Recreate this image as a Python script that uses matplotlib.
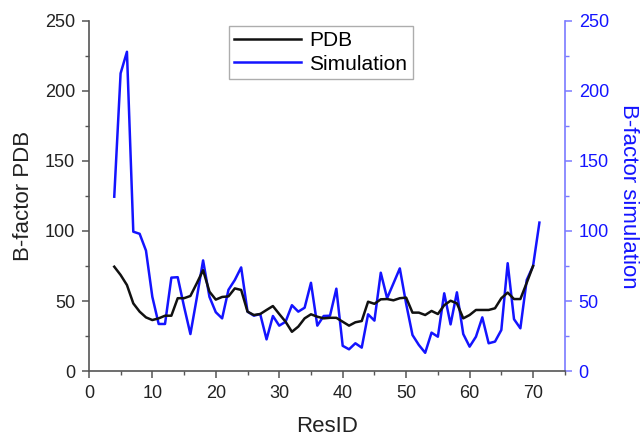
import matplotlib
matplotlib.use("Agg")
import matplotlib.pyplot as plt
from matplotlib.ticker import MultipleLocator

plt.rcParams['font.family'] = ['Liberation Sans', 'DejaVu Sans']

pdb_x = list(range(4, 71))
pdb_y = [74.5, 68.6, 61.4, 48.3, 42.4, 38.3, 36.4, 37.6, 39.5, 39.5,
         52, 52, 53.6, 62.6, 72, 56.7, 51, 52.9, 53.3, 59,
         57.9, 42.4, 40, 40.7, 43.6, 46.4, 40.7, 35.2, 28, 31.7,
         37.6, 40.5, 38.8, 37.6, 38, 38, 35.2, 32.4, 34.8, 35.7,
         49.5, 48, 51.2, 51.4, 50.5, 52, 52.4, 41.7, 41.7, 40,
         42.9, 40.7, 47, 50.2, 48.3, 37.6, 40, 43.6, 43.6, 43.6,
         44.8, 52, 56, 51.4, 51.4, 63, 75]

sim_x = list(range(4, 72))
sim_y = [124.5, 212.6, 228, 99.5, 98, 86, 53, 33.6, 33.6, 66.7,
         67, 46, 26.4, 52, 79, 53, 42, 37.6, 58, 65,
         74, 42.4, 39.5, 40.7, 22.6, 39.3, 32.4, 35.2, 47, 42.4,
         45.2, 63, 32.4, 39.3, 39.5, 58.8, 18, 15.5, 19.8, 16.7,
         40.5, 36, 70.2, 52, 62.6, 73.3, 48, 25.7, 18.6, 13,
         27.4, 24.5, 55.5, 33.3, 56.2, 26.4, 17.4, 24.5, 38.3, 19.8,
         21, 29.3, 77, 37, 30.5, 65, 75, 106]

fig = plt.figure(figsize=(6.44, 4.37), dpi=100)
ax = fig.add_axes([0.138, 0.151, 0.739, 0.801])
ax2 = ax.twinx()

blue = '#1414ff'
spine_blue = '#7a7aff'
gray = '#555555'

l2, = ax2.plot(sim_x, sim_y, color=blue, lw=1.8, label='Simulation')
l1, = ax.plot(pdb_x, pdb_y, color='#111111', lw=1.8, label='PDB')
ax.set_zorder(ax2.get_zorder() + 1)
ax.patch.set_visible(False)

for a in (ax, ax2):
    a.set_xlim(0, 75)
    a.set_ylim(0, 250)
    a.spines['top'].set_visible(False)

ax.xaxis.set_major_locator(MultipleLocator(10))
ax.xaxis.set_minor_locator(MultipleLocator(5))
ax.yaxis.set_major_locator(MultipleLocator(50))
ax.yaxis.set_minor_locator(MultipleLocator(25))
ax2.yaxis.set_major_locator(MultipleLocator(50))
ax2.yaxis.set_minor_locator(MultipleLocator(25))

ax.spines['left'].set_color(gray)
ax.spines['bottom'].set_color(gray)
ax.spines['right'].set_visible(False)
ax2.spines['left'].set_visible(False)
ax2.spines['bottom'].set_visible(False)
ax2.spines['right'].set_color(spine_blue)
for s in ('left', 'bottom'):
    ax.spines[s].set_linewidth(1.2)
ax2.spines['right'].set_linewidth(1.2)

ax.tick_params(axis='both', which='major', direction='out', length=5, width=1.1,
               color=gray, labelsize=13, labelcolor='#222222', pad=5)
ax.tick_params(axis='both', which='minor', direction='out', length=3, width=1.0, color=gray)
ax2.tick_params(axis='y', which='major', direction='out', length=5, width=1.1,
                color=spine_blue, labelsize=13, labelcolor=blue, pad=5)
ax2.tick_params(axis='y', which='minor', direction='out', length=3, width=1.0, color=spine_blue)

ax.set_xlabel('ResID', fontsize=16, color='#222222', labelpad=10)
ax.set_ylabel('B-factor PDB', fontsize=16, color='#222222', labelpad=8)
ax2.set_ylabel('B-factor simulation', fontsize=16, color=blue, rotation=270,
               labelpad=22)

leg = ax.legend(handles=[l1, l2], loc='upper left', bbox_to_anchor=(0.295, 0.985),
                fontsize=15, frameon=True, fancybox=False, edgecolor='#999999',
                handlelength=3.2, handletextpad=0.4, borderpad=0.25,
                labelspacing=0.2, borderaxespad=0)
leg.get_frame().set_linewidth(1.0)

fig.savefig('out.png', dpi=100)
